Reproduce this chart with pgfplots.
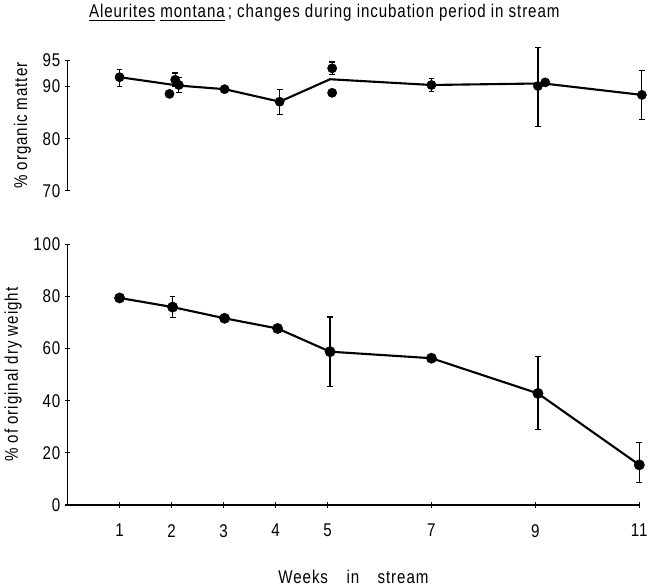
\documentclass[border=0pt]{standalone}
\usepackage{fontspec}
\setmainfont{Liberation Sans}[FakeStretch=0.82,LetterSpace=5]
\usepackage{pgfplots}
\usepackage{pgfplotstable}
\pgfplotsset{compat=1.18}

% top panel: % organic matter
\pgfplotstableread{
x     y
1.00  91.8
2.12  90.2
3.02  89.5
4.08  87.1
5.05  91.4
7.00  90.3
9.15  90.6
11.05 88.4
}\orgline
\pgfplotstableread{
x     y     ep   em
1.00  91.8  1.4  1.8
2.07  91.3  1.3  1.3
2.14  90.3  1.5  1.5
4.08  87.1  2.4  2.4
5.09  93.5  1.2  1.2
7.00  90.3  1.2  1.2
9.05  90.1  7.4  7.7
11.05 88.4  4.7  4.7
}\orgbars
\pgfplotstableread{
x     y
1.96  88.6
3.02  89.5
5.09  88.8
9.19  90.8
}\orgpts

% bottom panel: % of original dry weight
\pgfplotstableread{
x     y     ep    em
1.00  79.4  0     0
2.02  75.9  4.1   4.0
3.02  71.6  0     0
4.04  67.7  0     0
5.05  58.8  13.3  13.2
7.00  56.3  0     0
9.05  42.8  14.1  13.9
11.00 15.4  8.7   6.7
}\drywt

\pgfplotsset{
  panel/.style={
    scale only axis, width=434pt,
    xmin=0, xmax=11,
    tick align=outside, major tick length=4pt,
    tick style={line width=0.9pt, black},
    clip=false,
    /pgf/number format/assume math mode=true,
    ylabel style={yshift=2pt},
  },
  nolines/.style={
    x axis line style={-, line width=1.1pt},
    y axis line style={-, line width=1.1pt},
  },
  dots/.style={only marks, mark=*, mark size=#1,
    mark options={fill=black, draw=black}},
  dots/.default=3.9pt,
  bars/.style={dots=#1,
    error bars/y dir=both, error bars/y explicit,
    error bars/error bar style={line width=0.9pt},
    error bars/error mark options={line width=0.9pt, mark size=2.2pt, rotate=90}},
  bars/.default=3.9pt,
}

\begin{document}
\begin{tikzpicture}[font=\fontsize{14}{16}\selectfont]
\begin{axis}[panel, name=bot, at={(0,0)}, anchor=south west,
  height=198pt, ymin=0, ymax=100,
  axis x line=bottom, axis y line=left, nolines,
  xtick={1,2,3,4,5,7,9,11}, ytick={0,20,40,60,80,100},
  xticklabel style={yshift=-9pt},
  xlabel={Weeks\quad in\quad stream},
  xlabel style={yshift=-18pt},
  ylabel={\% of original dry weight},
]
\addplot[black, line width=1.6pt] table[x=x, y=y] {\drywt};
\addplot[bars] table[x=x, y=y, y error plus=ep, y error minus=em] {\drywt};
\end{axis}

\begin{axis}[panel, name=top, at={(0,238.5pt)}, anchor=south west,
  height=99pt, ymin=70, ymax=95,
  axis x line=none, axis y line=left, nolines,
  ytick={70,80,90,95},
  ylabel={\% organic matter},
  title={\underline{Aleurites} \underline{montana}\,; changes during incubation period in stream},
  title style={at={(0.449,1)}, anchor=south, yshift=20pt},
]
\addplot[black, line width=1.6pt] table[x=x, y=y] {\orgline};
\addplot[bars=3.5pt] table[x=x, y=y, y error plus=ep, y error minus=em] {\orgbars};
\addplot[dots=3.5pt] table[x=x, y=y] {\orgpts};
\end{axis}
\end{tikzpicture}
\end{document}
